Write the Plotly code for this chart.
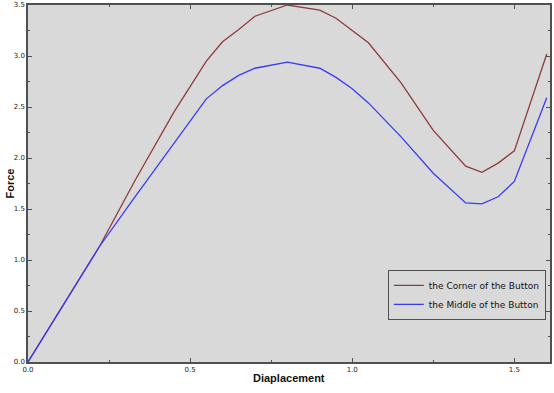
import plotly.graph_objects as go

displacement = [0, 0.22, 0.33, 0.45, 0.55, 0.6, 0.65, 0.7, 0.8, 0.9, 0.95, 1.0, 1.05,
                1.15, 1.25, 1.35, 1.4, 1.45, 1.5, 1.6]
force_corner = [0, 1.13, 1.78, 2.45, 2.95, 3.14, 3.26, 3.39, 3.5, 3.45, 3.37, 3.25, 3.13,
                2.74, 2.27, 1.92, 1.86, 1.95, 2.07, 3.02]
force_middle = [0, 1.13, 1.62, 2.15, 2.58, 2.71, 2.81, 2.88, 2.94, 2.88, 2.79, 2.68, 2.54,
                2.21, 1.85, 1.56, 1.55, 1.62, 1.77, 2.59]

x_ticks = [0.0, 0.5, 1.0, 1.5]
y_ticks = [0.0, 0.5, 1.0, 1.5, 2.0, 2.5, 3.0, 3.5]

fig = go.Figure()
fig.add_trace(go.Scatter(x=displacement, y=force_corner, mode="lines",
                         name="the Corner of the Button",
                         line=dict(color="#8E3B3B", width=1.3)))
fig.add_trace(go.Scatter(x=displacement, y=force_middle, mode="lines",
                         name="the Middle of the Button",
                         line=dict(color="#3A3AF5", width=1.3)))

axis_common = dict(
    showgrid=False, zeroline=False, showline=True, linecolor="#505050", linewidth=1.5,
    mirror="ticks", ticks="inside", ticklen=4, tickcolor="#505050", tickwidth=1,
    tickfont=dict(family="DejaVu Sans", size=7, color="#222"), tickformat=".1f",
    minor=dict(ticks="inside", ticklen=2, tickcolor="#505050", dtick=0.25),
    automargin=False,
)

fig.update_layout(
    width=554, height=393,
    margin=dict(l=28, r=4, t=5, b=31),
    paper_bgcolor="white", plot_bgcolor="#D9D9D9",
    xaxis=dict(range=[0, 1.61], tickvals=x_ticks, **axis_common),
    yaxis=dict(range=[0, 3.5], tickvals=y_ticks, **axis_common),
    legend=dict(x=0.992, y=0.188, xanchor="right", yanchor="middle",
                bgcolor="#D9D9D9", bordercolor="#505050", borderwidth=1,
                font=dict(family="DejaVu Sans", size=9, color="#111"),
                tracegroupgap=0, itemwidth=30),
    showlegend=True,
    annotations=[
        dict(text="<b>Diaplacement</b>", xref="paper", yref="paper", x=0.5, y=0,
             yshift=-16, xanchor="center", yanchor="middle", showarrow=False,
             font=dict(family="Liberation Sans", size=11, color="#111")),
        dict(text="<b>Force</b>", xref="paper", yref="paper", x=0, y=0.5,
             xshift=-19, xanchor="center", yanchor="middle", showarrow=False,
             textangle=-90, font=dict(family="Liberation Sans", size=11, color="#111")),
    ],
)

fig.write_html("out.html", config={"displayModeBar": False},
               post_script="document.body.style.margin='0';")
